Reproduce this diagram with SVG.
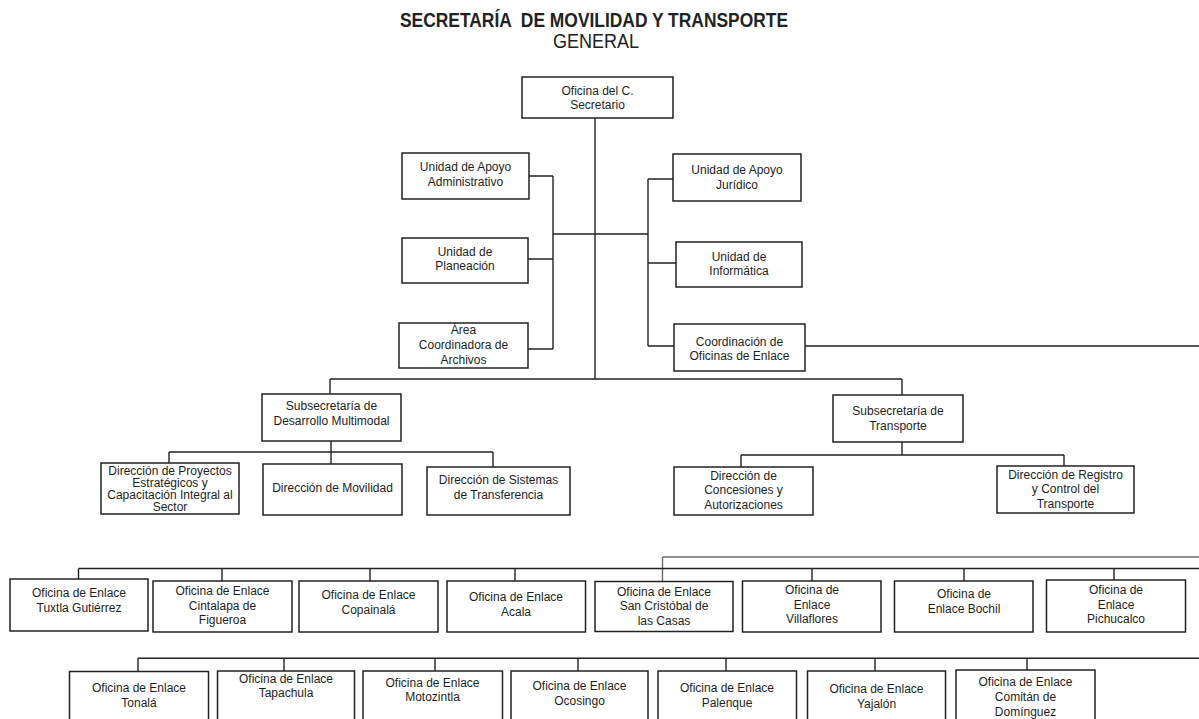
<svg xmlns="http://www.w3.org/2000/svg" width="1199" height="719" viewBox="0 0 1199 719">
<style>
.box{fill:#fff;stroke:#222;stroke-width:1.5}
.t{font-family:"Liberation Sans",Arial,sans-serif;font-size:12px;fill:#1e1e1e;text-anchor:middle}
.t2{font-family:"Liberation Sans",Arial,sans-serif;font-size:12px;fill:#1e1e1e;text-anchor:middle}
.ln{fill:none;stroke:#222;stroke-width:1.4}
.lg{fill:none;stroke:#6a6a6a;stroke-width:1.4}
.title{font-family:"Liberation Sans",Arial,sans-serif;font-weight:bold;font-size:20px;fill:#222;text-anchor:middle}
.sub{font-family:"Liberation Sans",Arial,sans-serif;font-size:19.5px;fill:#222;text-anchor:middle}
</style>
<rect width="1199" height="719" fill="#fff"/>
<text class="title" x="594" y="27" textLength="388" lengthAdjust="spacingAndGlyphs" xml:space="preserve">SECRETARÍA  DE MOVILIDAD Y TRANSPORTE</text>
<text class="sub" x="596" y="48" textLength="86" lengthAdjust="spacingAndGlyphs">GENERAL</text>

<g id="connectors">
<path class="ln" d="M595 118V379"/>
<path class="ln" d="M529 176H553M528 259H553M528 349H553M553 176V349M553 234H648M648 179V346M648 179H673M648 263H676M648 346H674"/>
<path class="ln" d="M805 346H1199"/>
<path class="ln" d="M330 379H902M330 379V394M902 379V395"/>
<path class="ln" d="M331 441V452M169 452H493M169 452V463M331 452V464M493 452V467"/>
<path class="ln" d="M902 442V455M741 455H1064M741 455V467M1064 455V466"/>
<path class="lg" d="M662.5 557H1199M662.5 557V581.5"/>
<path class="ln" d="M78.5 568.5H1199M78.5 568.5V579M222 568.5V581M370 568.5V581M515 568.5V581M812 568.5V581M964 568.5V581M1114 568.5V580"/>
<path class="ln" d="M138 658.3H1199M138 658.3V671.5M284 658.3V671M435 658.3V671M578 658.3V671M726 658.3V671M875 658.3V671M1027 658.3V670"/>
</g>

<g id="secretario"><rect class="box" x="522" y="77" width="151" height="41"/>
<text class="t" x="597.5" y="95">Oficina del C.</text><text class="t" x="597.5" y="109">Secretario</text></g>

<g id="apoyo-administrativo"><rect class="box" x="402" y="153" width="127" height="46"/>
<text class="t" x="465.5" y="170.5">Unidad de Apoyo</text><text class="t" x="465.5" y="185.5">Administrativo</text></g>
<g id="planeacion"><rect class="box" x="402" y="238" width="126" height="45"/>
<text class="t" x="465" y="255.5">Unidad de</text><text class="t" x="465" y="270">Planeación</text></g>
<g id="archivos"><rect class="box" x="399" y="323" width="129" height="45"/>
<text class="t" x="463.5" y="333.5">Área</text><text class="t" x="463.5" y="349">Coordinadora de</text><text class="t" x="463.5" y="364">Archivos</text></g>

<g id="apoyo-juridico"><rect class="box" x="673" y="154" width="128" height="47"/>
<text class="t" x="737" y="174">Unidad de Apoyo</text><text class="t" x="737" y="188.5">Jurídico</text></g>
<g id="informatica"><rect class="box" x="676" y="242" width="126" height="45"/>
<text class="t" x="739" y="260.5">Unidad de</text><text class="t" x="739" y="274.5">Informática</text></g>
<g id="coordinacion"><rect class="box" x="674" y="324" width="131" height="47"/>
<text class="t" x="739.5" y="345.5">Coordinación de</text><text class="t" x="739.5" y="359.5">Oficinas de Enlace</text></g>

<g id="subsec-desarrollo"><rect class="box" x="262" y="394" width="139" height="47"/>
<text class="t" x="331.5" y="410">Subsecretaría de</text><text class="t" x="331.5" y="425">Desarrollo Multimodal</text></g>
<g id="subsec-transporte"><rect class="box" x="833" y="395" width="130" height="47"/>
<text class="t" x="898" y="415">Subsecretaría de</text><text class="t" x="898" y="429.5">Transporte</text></g>

<g id="dir-proyectos"><rect class="box" x="101" y="463" width="138" height="51"/>
<text class="t2" x="170" y="474.5">Dirección de Proyectos</text><text class="t2" x="170" y="486.5">Estratégicos y</text><text class="t2" x="170" y="499">Capacitación Integral al</text><text class="t2" x="170" y="511">Sector</text></g>
<g id="dir-movilidad"><rect class="box" x="263" y="464" width="139" height="51"/>
<text class="t" x="332.5" y="492">Dirección de Movilidad</text></g>
<g id="dir-sistemas"><rect class="box" x="427" y="467" width="143" height="48"/>
<text class="t" x="498.5" y="483.5">Dirección de Sistemas</text><text class="t" x="498.5" y="498.5">de Transferencia</text></g>

<g id="dir-concesiones"><rect class="box" x="674" y="467" width="139" height="48"/>
<text class="t" x="743.5" y="479.5">Dirección de</text><text class="t" x="743.5" y="494">Concesiones y</text><text class="t" x="743.5" y="508.5">Autorizaciones</text></g>
<g id="dir-registro"><rect class="box" x="997" y="466" width="137" height="47"/>
<text class="t" x="1065.5" y="478.5">Dirección de Registro</text><text class="t" x="1065.5" y="493">y Control del</text><text class="t" x="1065.5" y="507.5">Transporte</text></g>

<g id="of-tuxtla"><rect class="box" x="10" y="579" width="138" height="52"/>
<text class="t" x="79" y="597">Oficina de Enlace</text><text class="t" x="79" y="612">Tuxtla Gutiérrez</text></g>
<g id="of-cintalapa"><rect class="box" x="153" y="581" width="139" height="51"/>
<text class="t" x="222.5" y="594.5">Oficina de Enlace</text><text class="t" x="222.5" y="609.5">Cintalapa de</text><text class="t" x="222.5" y="624">Figueroa</text></g>
<g id="of-copainala"><rect class="box" x="299" y="581" width="139" height="51"/>
<text class="t" x="368.5" y="599">Oficina de Enlace</text><text class="t" x="368.5" y="614">Copainalá</text></g>
<g id="of-acala"><rect class="box" x="447" y="581" width="138.5" height="51"/>
<text class="t" x="516" y="601">Oficina de Enlace</text><text class="t" x="516" y="615.5">Acala</text></g>
<g id="of-sancristobal"><rect class="box" x="595" y="581.5" width="138" height="50"/>
<text class="t" x="664" y="596">Oficina de Enlace</text><text class="t" x="664" y="610">San Cristóbal de</text><text class="t" x="664" y="624.5">las Casas</text></g>
<g id="of-villaflores"><rect class="box" x="742.5" y="581" width="138.5" height="51"/>
<text class="t" x="812" y="594">Oficina de</text><text class="t" x="812" y="609">Enlace</text><text class="t" x="812" y="623">Villaflores</text></g>
<g id="of-bochil"><rect class="box" x="894.5" y="581" width="138.5" height="51"/>
<text class="t" x="964" y="598">Oficina de</text><text class="t" x="964" y="613">Enlace Bochil</text></g>
<g id="of-pichucalco"><rect class="box" x="1046.5" y="580" width="139" height="52"/>
<text class="t" x="1116" y="594">Oficina de</text><text class="t" x="1116" y="609">Enlace</text><text class="t" x="1116" y="623">Pichucalco</text></g>

<g id="of-tonala"><rect class="box" x="69.5" y="671.5" width="139" height="60"/>
<text class="t" x="139" y="692">Oficina de Enlace</text><text class="t" x="139" y="707">Tonalá</text></g>
<g id="of-tapachula"><rect class="box" x="217.5" y="671" width="137" height="60"/>
<text class="t" x="286" y="683">Oficina de Enlace</text><text class="t" x="286" y="697">Tapachula</text></g>
<g id="of-motozintla"><rect class="box" x="363" y="671" width="139.5" height="60"/>
<text class="t" x="432.5" y="687">Oficina de Enlace</text><text class="t" x="432.5" y="700.5">Motozintla</text></g>
<g id="of-ocosingo"><rect class="box" x="511" y="671" width="137" height="60"/>
<text class="t" x="579.5" y="690">Oficina de Enlace</text><text class="t" x="579.5" y="705">Ocosingo</text></g>
<g id="of-palenque"><rect class="box" x="658" y="671" width="138.5" height="60"/>
<text class="t" x="727" y="692">Oficina de Enlace</text><text class="t" x="727" y="707">Palenque</text></g>
<g id="of-yajalon"><rect class="box" x="807.5" y="671" width="138" height="60"/>
<text class="t" x="876.5" y="693">Oficina de Enlace</text><text class="t" x="876.5" y="708">Yajalón</text></g>
<g id="of-comitan"><rect class="box" x="956" y="670" width="139" height="60"/>
<text class="t" x="1025.5" y="685.5">Oficina de Enlace</text><text class="t" x="1025.5" y="700.5">Comitán de</text><text class="t" x="1025.5" y="715.5">Domínguez</text></g>
</svg>
